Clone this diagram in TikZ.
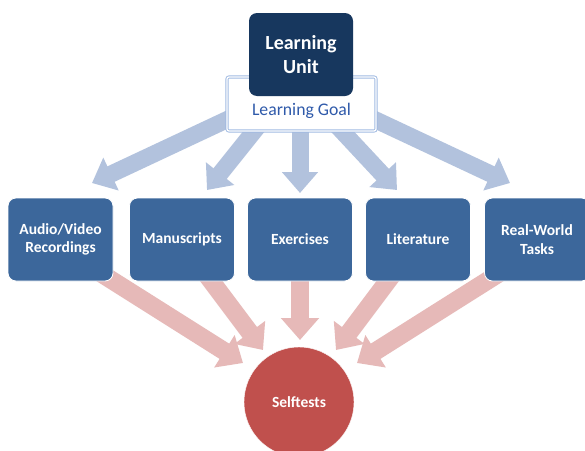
\documentclass[tikz,border=0pt]{standalone}
\usepackage{fontspec}
\setmainfont{Carlito}
\usetikzlibrary{arrows.meta}
\definecolor{unitc}{RGB}{23,55,94}
\definecolor{boxc}{RGB}{60,103,155}
\definecolor{goalc}{RGB}{47,90,170}
\definecolor{goalborder}{RGB}{160,186,226}
\definecolor{barrow}{RGB}{178,194,221}
\definecolor{rarrow}{RGB}{230,185,184}
\definecolor{selfc}{RGB}{192,80,77}
\pgfdeclarelayer{bg}
\pgfsetlayers{bg,main}
\begin{document}
\begin{tikzpicture}[x=1pt,y=-1pt,
 box/.style={rectangle, rounded corners=8pt, fill=boxc, draw=white, line width=0.8pt,
   minimum width=105pt, minimum height=83pt, text=white,
   font=\fontsize{15.5}{18.5}\selectfont\bfseries, align=center, inner sep=0pt},
 barr/.style={draw=barrow, line width=17pt, -{Triangle[width=35pt,length=21pt]}},
 rarr/.style={draw=rarrow, line width=18pt, -{Triangle[width=37pt,length=22pt]}}]
\useasboundingbox (0,0) rectangle (585,450);

% goal and unit
\node[rectangle, rounded corners=2pt, fill=white, draw=goalborder, double=white, double distance=1.3pt,
  line width=0.9pt, minimum width=149pt, minimum height=54pt] (goal) at (301.5,104) {};
\node[text=goalc, font=\fontsize{17.7}{20}\selectfont] (goaltxt) at (301.5,111) {Learning Goal};
\node[rectangle, rounded corners=8pt, fill=unitc, minimum width=104pt, minimum height=83pt,
  text=white, font=\fontsize{20}{24}\selectfont\bfseries, align=center] (unit) at (301,54.5) {Learning\\Unit};

% middle boxes
\node[box] (b1) at (60.5,239.5) {Audio/Video\\Recordings};
\node[box] (b2) at (182,239.5) {Manuscripts};
\node[box] (b3) at (300,239.5) {Exercises};
\node[box] (b4) at (418,239.5) {Literature};
\node[box] (b5) at (537,239.5) {Real-World\\Tasks};

% selftests
\node[circle, fill=selfc, draw=white, minimum size=110pt, text=white,
  font=\fontsize{15.5}{18}\selectfont\bfseries] (self) at (299,402) {Selftests};

% arrow end points
\coordinate (g1) at (254,107); \coordinate (t1) at (92,183);
\coordinate (g2) at (279,100); \coordinate (t2) at (207,190);
\coordinate (g3) at (300,110); \coordinate (t3) at (300,193);
\coordinate (g4) at (313,100); \coordinate (t4) at (397,190);
\coordinate (g5) at (348,107); \coordinate (t5) at (510,183);

\coordinate (s1) at (83,262);  \coordinate (r1) at (243,363);
\coordinate (s2) at (197,262); \coordinate (r2) at (263,350);
\coordinate (s3) at (300,262); \coordinate (r3) at (300,340);
\coordinate (s4) at (402,262); \coordinate (r4) at (336,350);
\coordinate (s5) at (517,262); \coordinate (r5) at (357,363);

\begin{pgfonlayer}{bg}
\fill[white] (0,0) rectangle (585,450);
\draw[barr] (g1) -- (t1);
\draw[barr] (g2) -- (t2);
\draw[barr] (g3) -- (t3);
\draw[barr] (g4) -- (t4);
\draw[barr] (g5) -- (t5);
\draw[rarr] (s1) -- (r1);
\draw[rarr] (s2) -- (r2);
\draw[rarr] (s3) -- (r3);
\draw[rarr] (s4) -- (r4);
\draw[rarr] (s5) -- (r5);
\end{pgfonlayer}
\end{tikzpicture}
\end{document}
